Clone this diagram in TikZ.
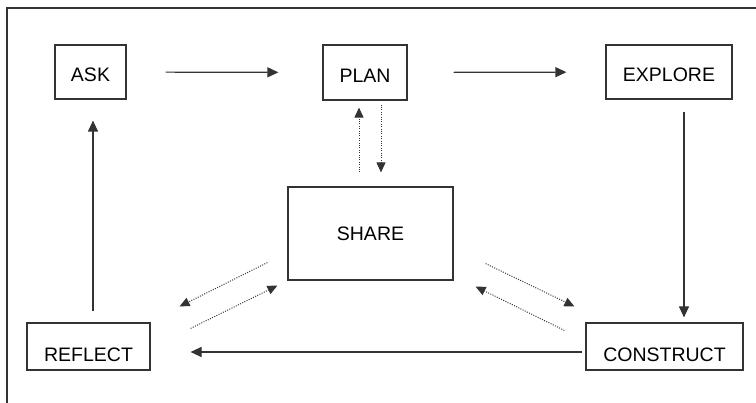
\documentclass[tikz,border=0pt]{standalone}
\usepackage{fontspec}
\setmainfont{Liberation Sans}
\usetikzlibrary{arrows.meta,calc}

\begin{document}
\begin{tikzpicture}[x=1pt, y=-1pt, font=\fontsize{19.5}{22}\selectfont,
  box/.style={draw=black!80, line width=1.2pt, inner sep=0pt, text depth=0pt, text height=20pt},
  low/.style={box, text height=30pt},
  arr/.style={draw=black!80, line width=1.2pt, -{Triangle[length=11pt,width=10pt]}},
  dots/.style={draw=black!80, line width=1pt, dash pattern=on 1pt off 1.4pt, -{Triangle[length=10pt,width=9pt]}}]
\clip (0,0) rectangle (756,403);
\draw[line width=1.3pt, black!80] (7,8) rectangle (780,430);
\node[box, minimum width=71pt, minimum height=54pt] (ask) at (90.5,72) {ASK};
\node[box, minimum width=84pt, minimum height=55pt] (plan) at (365,72.5) {PLAN};
\node[box, minimum width=126pt, minimum height=54pt] (explore) at (669,72) {EXPLORE};
\node[box, text height=14pt, minimum width=165pt, minimum height=93pt] (share) at (370.5,233.5) {SHARE};
\node[low, minimum width=157pt, minimum height=47pt] (construct) at (664.5,346.5) {CONSTRUCT};
\node[low, minimum width=123pt, minimum height=47pt] (reflect) at (88.5,346.5) {REFLECT};
\draw[arr, shorten <=39pt, shorten >=44pt] (ask) -- (plan);
\draw[arr, shorten <=46pt, shorten >=39pt] (plan) -- (explore);
\draw[arr, shorten <=12pt, shorten >=5pt] ($(explore.south)+(15,0)$) -- ($(construct.north)+(19.5,0)$);
\draw[arr, shorten <=3pt, shorten >=40pt] ($(construct.west)+(0,5.5)$) -- ($(reflect.east)+(0,5.5)$);
\draw[arr, shorten <=11pt, shorten >=21pt] ($(reflect.north)+(4.5,0)$) -- ($(ask.south)+(2.5,0)$);
\draw[dots, shorten <=14pt, shorten >=7pt] ($(share.north)+(-11.5,0)$) -- ($(plan.south)+(-6,0)$);
\draw[dots, shorten <=4pt, shorten >=14pt] ($(plan.south)+(16,0)$) -- ($(share.north)+(10.5,0)$);
\draw[dots] ($(share.south west)+(-20,-18)$) -- ($(reflect.north east)+(29,-16)$);
\draw[dots] ($(reflect.north east)+(40,6)$) -- ($(share.south west)+(-10,5)$);
\draw[dots] ($(share.south east)+(32,-17)$) -- ($(construct.north west)+(-11,-16)$);
\draw[dots] ($(construct.north west)+(-21,8)$) -- ($(share.south east)+(22,6)$);
\end{tikzpicture}
\end{document}
